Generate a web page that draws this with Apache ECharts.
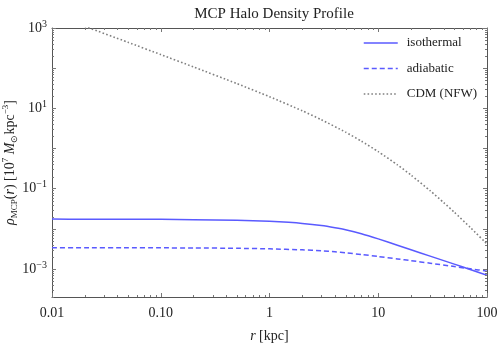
<!DOCTYPE html>
<html>
<head>
<meta charset="utf-8">
<script src="https://cdn.jsdelivr.net/npm/echarts@6/dist/echarts.min.js"></script>
<style>html,body{margin:0;padding:0;background:#fff}#c{width:498px;height:344px}</style>
</head>
<body>
<div id="c"></div>
<script>
// ---- data ----
const isoR = [0.01, 0.02, 0.05, 0.1, 0.2, 0.5, 1, 1.5, 2, 3, 4, 5, 7, 10, 15, 20, 30, 40, 50, 70, 100];
const isoV = [0.0174, 0.01738, 0.01733, 0.0172, 0.0169, 0.01622, 0.01531, 0.01445, 0.01361, 0.0120, 0.01059, 0.00944, 0.00753, 0.0056, 0.00389, 0.0030, 0.00208, 0.00161, 0.00132, 0.000966, 0.000693];
const adiR = [0.01, 0.02, 0.05, 0.1, 0.2, 0.5, 1, 2, 3, 4, 5, 7, 10, 15, 20, 30, 50, 70, 100];
const adiV = [0.00338, 0.00338, 0.00337, 0.00335, 0.00333, 0.00327, 0.00316, 0.00299, 0.002825, 0.002667, 0.002523, 0.00229, 0.00204, 0.001778, 0.001607, 0.00139, 0.001146, 0.00101, 0.000881];
const nfwR = [0.02, 0.05, 0.1, 0.2, 0.5, 1, 2, 3, 5, 7, 10, 15, 20, 30, 40, 50, 70, 100];
const nfwV = [1100, 440, 218, 107.3, 41.4, 19.5, 8.69, 5.2, 2.554, 1.52, 0.833, 0.391, 0.217, 0.0887, 0.0449, 0.0259, 0.01087, 0.00418];
const seriesNames = ['isothermal', 'adiabatic', 'CDM (NFW)'];
const xMajor = [0.01, 0.1, 1, 10, 100];
const xTickLabels = ['0.01', '0.10', '1', '10', '100'];
const yMajor = [0.001, 0.01, 0.1, 1, 10, 100, 1000];
const yLabelValues = [0.001, 0.1, 10, 1000];
const yLabelExp = ['−3', '−1', '1', '3'];

function minorTicks(lo, hi) {
  const out = [];
  for (let e = lo; e < hi; e++) for (let k = 2; k <= 9; k++) out.push(+(k * Math.pow(10, e)).toPrecision(3));
  return out;
}
const xMinor = minorTicks(-2, 2);
const yMinor = minorTicks(-4, 3).filter(v => v >= 0.0002);

const FONT = 'Liberation Serif';
const AX = '#555';
const TK = '#777';
const BLUE = '#5a5aff';

function xAx(pos, labels) {
  return {
    type: 'log', logBase: 10, min: 0.01, max: 100, position: pos,
    axisLine: { show: true, onZero: false, lineStyle: { color: AX, width: 1 } },
    axisTick: { show: true, inside: true, length: 4, customValues: xMajor, lineStyle: { color: TK, width: 1 } },
    axisLabel: labels ? {
      show: true, customValues: xMajor, margin: 9, fontFamily: FONT, fontSize: 14, color: '#222',
      formatter: v => { const i = xMajor.findIndex(m => Math.abs(Math.log10(m) - Math.log10(v)) < 1e-6); return i >= 0 ? xTickLabels[i] : ''; }
    } : { show: false },
    splitLine: { show: false }, minorTick: { show: false }, minorSplitLine: { show: false }
  };
}
function yAx(pos, labels) {
  return {
    type: 'log', logBase: 10, min: 0.0002, max: 1000, position: pos,
    axisLine: { show: true, onZero: false, lineStyle: { color: AX, width: 1 } },
    axisTick: { show: true, inside: true, length: 4, customValues: yMajor, lineStyle: { color: TK, width: 1 } },
    axisLabel: labels ? {
      show: true, customValues: yLabelValues, margin: 5, fontFamily: FONT, color: '#222',
      formatter: v => { const i = yLabelValues.findIndex(m => Math.abs(Math.log10(m) - Math.log10(v)) < 1e-6); return i >= 0 ? '{n|10}{s|' + yLabelExp[i] + '}' : ''; },
      rich: { n: { fontFamily: FONT, fontSize: 14, lineHeight: 18, color: '#222' }, s: { fontFamily: FONT, fontSize: 10, lineHeight: 10, verticalAlign: 'top', color: '#222' } }
    } : { show: false },
    splitLine: { show: false }, minorTick: { show: false }, minorSplitLine: { show: false }
  };
}

const xAxes = [xAx('bottom', true), xAx('top', false)];
xAxes[0].name = '{i|r} {n|[kpc]}';
xAxes[0].nameLocation = 'middle';
xAxes[0].nameGap = 32;
xAxes[0].nameMoveOverlap = false;
xAxes[0].nameTextStyle = { rich: { i: { fontFamily: FONT, fontStyle: 'italic', fontSize: 14, color: '#222' }, n: { fontFamily: FONT, fontSize: 14, color: '#222' } } };

const yAxes = [yAx('left', true), yAx('right', false)];
yAxes[0].name = '{i|ρ}{sb|MCP}{n|(}{i|r}{n|) [10}{sp|7}{n| }{i|M}{sb|⊙}{n|kpc}{sp|−3}{n|]}';
yAxes[0].nameLocation = 'middle';
yAxes[0].nameGap = 33;
yAxes[0].nameMoveOverlap = false;
yAxes[0].nameRotate = 90;
yAxes[0].nameTextStyle = { rich: {
  i: { fontFamily: FONT, fontStyle: 'italic', fontSize: 14, lineHeight: 18, color: '#222' },
  n: { fontFamily: FONT, fontSize: 14, lineHeight: 18, color: '#222' },
  sb: { fontFamily: FONT, fontSize: 9, lineHeight: 9, verticalAlign: 'bottom', color: '#222' },
  sp: { fontFamily: FONT, fontSize: 9, lineHeight: 9, verticalAlign: 'top', color: '#222' }
} };

function pairs(r, v) { return r.map((x, i) => [x, v[i]]); }

const chart = echarts.init(document.getElementById('c'), null, { renderer: 'canvas' });
chart.setOption({
  animation: false,
  backgroundColor: '#fff',
  title: { text: 'MCP Halo Density Profile', left: 269, textAlign: 'center', top: 2,
    textStyle: { fontFamily: FONT, fontSize: 15, fontWeight: 'normal', color: '#222' } },
  grid: { left: 52, right: 11, top: 28, bottom: 47, containLabel: false, outerBoundsMode: 'none' },
  legend: {
    data: seriesNames, orient: 'vertical', left: 363, top: 36.5, padding: 0,
    itemWidth: 34, itemHeight: 14, itemGap: 12.5,
    itemStyle: { opacity: 0 },
    lineStyle: { width: 1.5 },
    textStyle: { fontFamily: FONT, fontSize: 13, color: '#222', padding: [0, 0, 0, 4] }
  },
  xAxis: xAxes,
  yAxis: yAxes,
  series: [
    { name: seriesNames[0], type: 'line', data: pairs(isoR, isoV), smooth: 0.2, symbol: 'none',
      lineStyle: { color: BLUE, width: 1.5, type: 'solid' }, itemStyle: { color: BLUE } },
    { name: seriesNames[1], type: 'line', data: pairs(adiR, adiV), smooth: 0.2, symbol: 'none',
      lineStyle: { color: BLUE, width: 1.5, type: [5, 3] }, itemStyle: { color: BLUE } },
    { name: seriesNames[2], type: 'line', data: pairs(nfwR, nfwV), smooth: 0.2, symbol: 'none',
      lineStyle: { color: '#808080', width: 1.6, type: [1.6, 2.2] }, itemStyle: { color: '#808080' } }
  ]
});

// Minor tick marks on all four sides, placed through the axes' own scales.
try {
  const els = [];
  const seg = (a, b, c, d) => els.push({ type: 'line', silent: true, z: 100, shape: { x1: a, y1: b, x2: c, y2: d }, style: { stroke: TK, lineWidth: 1 } });
  const yB = chart.convertToPixel({ yAxisIndex: 0 }, 0.0002), yT = chart.convertToPixel({ yAxisIndex: 0 }, 1000);
  const xL = chart.convertToPixel({ xAxisIndex: 0 }, 0.01), xR = chart.convertToPixel({ xAxisIndex: 0 }, 100);
  xMinor.forEach(v => { const x = Math.round(chart.convertToPixel({ xAxisIndex: 0 }, v)) + 0.5; seg(x, yB, x, yB - 2); seg(x, yT, x, yT + 2); });
  yMinor.forEach(v => { const y = Math.round(chart.convertToPixel({ yAxisIndex: 0 }, v)) + 0.5; seg(xL, y, xL + 2, y); seg(xR, y, xR - 2, y); });
  chart.setOption({ graphic: els });
} catch (e) {
  chart.setOption({ graphic: [{ type: 'text', style: { text: String(e), x: 60, y: 60, fill: 'red' } }] });
}
</script>
</body>
</html>
